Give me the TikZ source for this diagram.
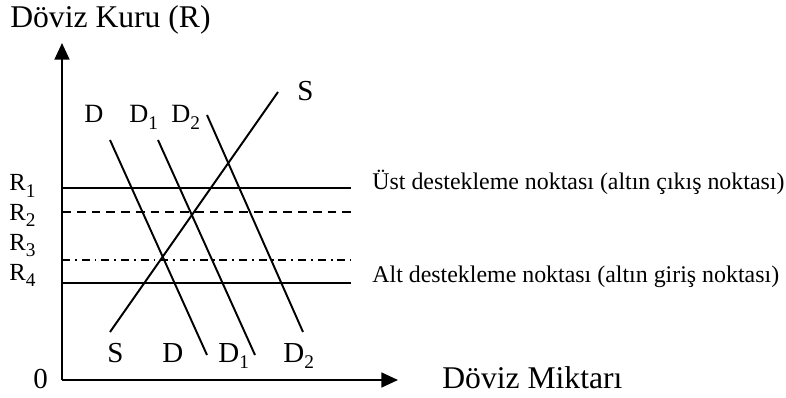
\documentclass[tikz,border=0pt]{standalone}
\usepackage{fontspec}
\setmainfont{Liberation Serif}
\usetikzlibrary{arrows.meta,positioning}
\newcommand{\lowsub}[1]{\raisebox{-3.6pt}{\fontsize{11}{12}\selectfont #1}}
\tikzset{
  axisline/.style={line width=1.15pt,-{Triangle[length=9.5pt,width=8.5pt]}},
  curve/.style={line width=1.1pt},
  level/.style={line width=1.1pt},
  dashlevel/.style={level,dash pattern=on 5pt off 3.4pt},
  dotlevel/.style={level,dash pattern=on 4.5pt off 2.8pt on 1.1pt off 2.8pt},
  bigtxt/.style={font=\fontsize{18}{20}\selectfont,inner sep=0pt,anchor=base west},
  curvelbl/.style={font=\fontsize{16.5}{18}\selectfont,inner sep=0pt,anchor=base west},
  toplbl/.style={font=\fontsize{15}{17}\selectfont,inner sep=0pt,anchor=base west},
  ratelbl/.style={font=\fontsize{14}{16}\selectfont,inner sep=0pt,anchor=base west},
  notetxt/.style={font=\fontsize{13.6}{16}\selectfont,inner sep=0pt,anchor=base west}
}

\begin{document}
\begin{tikzpicture}[x=0.02cm,y=-0.02cm]
  \useasboundingbox (0,0) rectangle (786,398);
  % axes
  \coordinate (o) at (62,380);
  \coordinate (ytop) at (62,43);
  \coordinate (xend) at (398,380);
  \draw[axisline] (o) -- (ytop);
  \draw[axisline] (o) -- (xend);
  \node[bigtxt] (ytitle) at (10,28) {Döviz Kuru (R)};
  \node[bigtxt] (xtitle) at (442,388) {Döviz Miktarı};
  \node[curvelbl] (zero) at (33,388) {0};

  % exchange rate levels
  \coordinate (r1a) at (62,188); \coordinate (r1b) at (351,188);
  \coordinate (r2a) at (62,212); \coordinate (r2b) at (351,212);
  \coordinate (r3a) at (62,260); \coordinate (r3b) at (351,260);
  \coordinate (r4a) at (62,283); \coordinate (r4b) at (351,283);
  \draw[level] (r1a) -- (r1b);
  \draw[dashlevel] (r2a) -- (r2b);
  \draw[dotlevel] (r3a) -- (r3b);
  \draw[level] (r4a) -- (r4b);
  \node[ratelbl] (r1) at (9,191) {R\lowsub{1}};
  \node[ratelbl] (r2) at (9,220) {R\lowsub{2}};
  \node[ratelbl] (r3) at (9,250) {R\lowsub{3}};
  \node[ratelbl] (r4) at (9,280) {R\lowsub{4}};
  \node[notetxt] (ust) at (372,190) {Üst destekleme noktası (altın çıkış noktası)};
  \node[notetxt] (alt) at (372,282) {Alt destekleme noktası (altın giriş noktası)};

  % supply and demand
  \coordinate (sa) at (110,332); \coordinate (sb) at (278,92);
  \coordinate (da) at (110,140); \coordinate (db) at (207,355);
  \coordinate (d1a) at (158,140); \coordinate (d1b) at (255,355);
  \coordinate (d2a) at (207,115); \coordinate (d2b) at (303,332);
  \draw[curve] (sa) -- (sb);
  \draw[curve] (da) -- (db);
  \draw[curve] (d1a) -- (d1b);
  \draw[curve] (d2a) -- (d2b);
  \node[curvelbl] (stop) at (297,101) {S};
  \node[toplbl] (dtop) at (84,123) {D};
  \node[toplbl] (d1top) at (129,123) {D\lowsub{1}};
  \node[toplbl] (d2top) at (171,123) {D\lowsub{2}};
  \node[curvelbl] (sbot) at (107,362) {S};
  \node[curvelbl] (dbot) at (162,362) {D};
  \node[curvelbl] (d1bot) at (218,362) {D\lowsub{1}};
  \node[curvelbl] (d2bot) at (283,362) {D\lowsub{2}};
\end{tikzpicture}
\end{document}
